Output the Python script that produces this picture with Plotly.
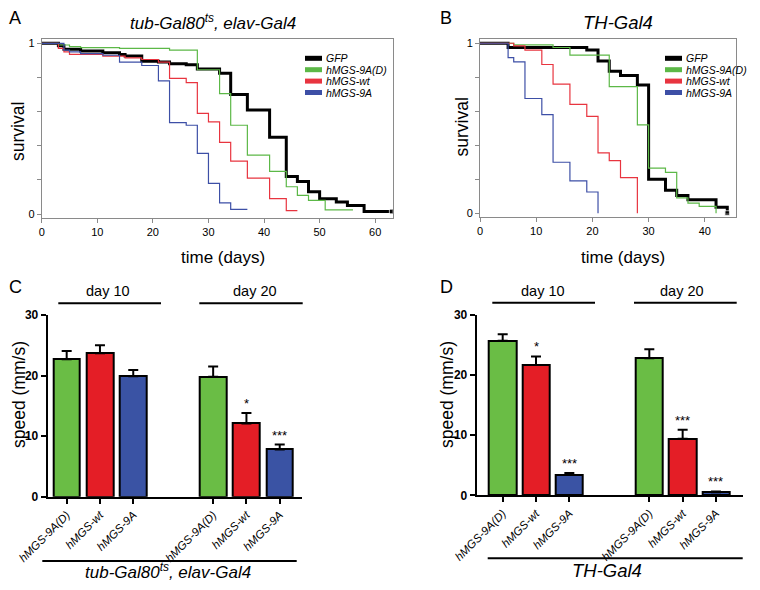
import plotly.graph_objects as go

# page body keeps an 8 px margin, so the figure is 16 px smaller than the window
PAGE_W, PAGE_H, PAD = 760, 590, 8
W, H = PAGE_W - 2 * PAD, PAGE_H - 2 * PAD
FONT = "Arial, Liberation Sans, sans-serif"

# ---- survival curves (step points: day, fraction alive) ----
SERIES = ["GFP", "hMGS-9A(D)", "hMGS-wt", "hMGS-9A"]
LINE_COLORS = ["#000000", "#5cb847", "#e8343f", "#3d4fa6"]
LINE_WIDTHS = [3, 1.2, 1.2, 1.2]

# A: tub-Gal80ts, elav-Gal4
a_gfp_days = [0, 3, 4, 7, 11, 14, 15, 18, 21, 23, 26, 28, 32, 34, 37, 41, 44, 46, 48, 50, 53, 55, 58, 63]
a_gfp_surv = [1.0, 0.985, 0.965, 0.955, 0.945, 0.935, 0.925, 0.895, 0.89, 0.88, 0.875, 0.85, 0.825, 0.70,
              0.61, 0.45, 0.22, 0.19, 0.13, 0.09, 0.07, 0.05, 0.015, 0.015]
a_9ad_days = [0, 3, 5, 7, 14, 23, 28, 32, 34, 37, 41, 44, 46, 48, 51, 56]
a_9ad_surv = [1.0, 0.99, 0.98, 0.975, 0.97, 0.96, 0.845, 0.705, 0.52, 0.345, 0.25, 0.16, 0.11, 0.08, 0.025, 0.025]
a_wt_days = [0, 3, 4, 5, 11, 15, 18, 21, 23, 26, 28, 30, 32, 34, 37, 41, 44, 46]
a_wt_surv = [1.0, 0.97, 0.95, 0.935, 0.925, 0.915, 0.905, 0.89, 0.795, 0.77, 0.59, 0.54, 0.42, 0.31,
             0.21, 0.09, 0.02, 0.02]
a_9a_days = [0, 4, 5, 7, 11, 14, 18, 21, 23, 26, 28, 30, 32, 34, 37]
a_9a_surv = [1.0, 0.96, 0.95, 0.94, 0.93, 0.89, 0.87, 0.78, 0.535, 0.52, 0.355, 0.18, 0.065, 0.027, 0.027]

# B: TH-Gal4
b_gfp_days = [0, 5, 19, 21, 23, 25, 28, 30, 33, 35, 37, 42, 44]
b_gfp_surv = [1.0, 0.975, 0.96, 0.895, 0.835, 0.81, 0.755, 0.20, 0.135, 0.105, 0.08, 0.035, 0.0]
b_9ad_days = [0, 6, 13, 16, 23, 28, 30, 33, 35, 37, 39, 42]
b_9ad_surv = [1.0, 0.99, 0.975, 0.93, 0.745, 0.52, 0.265, 0.24, 0.09, 0.06, 0.04, 0.0]
b_wt_days = [0, 6, 8, 11, 13, 16, 19, 21, 23, 25, 28]
b_wt_surv = [1.0, 0.985, 0.96, 0.875, 0.76, 0.64, 0.57, 0.355, 0.31, 0.21, 0.0]
b_9a_days = [0, 5, 6, 8, 11, 13, 16, 19, 21]
b_9a_surv = [1.0, 0.915, 0.89, 0.675, 0.58, 0.30, 0.19, 0.125, 0.0]

# ---- locomotion speed (mm/s), mean and SEM ----
BAR_LABELS = ["hMGS-9A(D)", "hMGS-wt", "hMGS-9A"]
BAR_COLORS = ["#6abd45", "#e41e26", "#3a53a4"]
c_day10 = [22.7, 23.7, 19.9]
c_day10_err = [1.35, 1.3, 1.0]
c_day10_sig = ["", "", ""]
c_day20 = [19.8, 12.1, 7.8]
c_day20_err = [1.7, 1.7, 0.8]
c_day20_sig = ["", "*", "***"]
d_day10 = [25.7, 21.7, 3.4]
d_day10_err = [1.1, 1.4, 0.3]
d_day10_sig = ["", "*", "***"]
d_day20 = [22.8, 9.4, 0.5]
d_day20_err = [1.5, 1.5, 0.15]
d_day20_sig = ["", "***", "***"]


def fx(px):
    # page pixel -> paper fraction
    return (px - PAD) / W


def fy(py):
    return 1 - (py - PAD) / H


fig = go.Figure()
shapes, notes = [], []


def note(text, x, y, size, **kw):
    d = dict(text=text, x=fx(x), y=fy(y), xref="paper", yref="paper", showarrow=False,
             font=dict(family=FONT, size=size, color="black"), xanchor="center", yanchor="middle")
    d.update(kw)
    notes.append(d)


def hline(x0, x1, y, width=2, color="black"):
    shapes.append(dict(type="line", xref="paper", yref="paper", x0=fx(x0), x1=fx(x1),
                       y0=fy(y), y1=fy(y), line=dict(color=color, width=width)))


def survival(curves, xa, ya, legend_x, legend_y):
    for (days, surv), name, col, lw in zip(curves, SERIES, LINE_COLORS, LINE_WIDTHS):
        sizes = [0] * (len(days) - 1) + ([5] if name == "GFP" else [0])
        fig.add_trace(go.Scatter(x=days, y=surv, mode="lines+markers", line_shape="hv",
                                 line=dict(color=col, width=lw), marker=dict(size=sizes, color=col, symbol="square"),
                                 xaxis=xa, yaxis=ya, name=name, showlegend=False, hoverinfo="skip"))
    for i, (name, col) in enumerate(zip(SERIES, LINE_COLORS)):
        y = legend_y + 11.4 * i
        hline(legend_x, legend_x + 17, y, width=5, color=col)
        note(name, legend_x + 19, y, 10.5, xanchor="left",
             font=dict(family=FONT, size=10.5, color="black", style="italic"))


survival([(a_gfp_days, a_gfp_surv), (a_9ad_days, a_9ad_surv), (a_wt_days, a_wt_surv), (a_9a_days, a_9a_surv)],
         "x", "y", 305, 58.3)
survival([(b_gfp_days, b_gfp_surv), (b_9ad_days, b_9ad_surv), (b_wt_days, b_wt_surv), (b_9a_days, b_9a_surv)],
         "x2", "y2", 665, 58.3)

POS1 = [0, 1, 2]
POS2 = [4.4, 5.4, 6.4]


def bars(groups, xa, ya, width):
    for pos, vals, errs, sig in groups:
        fig.add_trace(go.Bar(x=pos, y=vals, width=width, xaxis=xa, yaxis=ya, showlegend=False,
                             marker=dict(color=BAR_COLORS, line=dict(color="black", width=2)),
                             error_y=dict(type="data", array=errs, arrayminus=[0] * len(errs), symmetric=False,
                                          color="black", thickness=2, width=5),
                             hoverinfo="skip"))
        for p, v, e, s in zip(pos, vals, errs, sig):
            if s:
                notes.append(dict(text=s, x=p, y=v + e, xref=xa, yref=ya, showarrow=False,
                                  yanchor="bottom", yshift=0,
                                  font=dict(family=FONT, size=13, color="black")))


bars([(POS1, c_day10, c_day10_err, c_day10_sig), (POS2, c_day20, c_day20_err, c_day20_sig)], "x3", "y3", 0.8)
bars([(POS1, d_day10, d_day10_err, d_day10_sig), (POS2, d_day20, d_day20_err, d_day20_sig)], "x4", "y4", 0.82)

surv_x = dict(showline=True, linecolor="#8a8a8a", linewidth=1, mirror=True, ticks="outside", ticklen=4,
              tickcolor="#8a8a8a", showgrid=False, zeroline=False, automargin=False,
              tickfont=dict(family=FONT, size=11, color="black"))
surv_y = dict(surv_x, tickvals=[0, 1], ticktext=["0", "1"],
              minor=dict(tickvals=[0.2, 0.4, 0.6, 0.8], ticks="outside", ticklen=4, tickcolor="#8a8a8a",
                         showgrid=False))
bar_x = dict(showline=True, linecolor="black", linewidth=2, ticks="outside", ticklen=5, tickwidth=1.5,
             tickcolor="black", showgrid=False, zeroline=False, tickangle=-45, automargin=False,
             tickvals=POS1 + POS2, ticktext=BAR_LABELS * 2,
             tickfont=dict(family=FONT, size=11.5, color="black", style="italic"))
bar_y = dict(showline=True, linecolor="black", linewidth=2, ticks="outside", ticklen=5, tickwidth=2,
             tickcolor="black", showgrid=False, zeroline=False, range=[0, 30], tickvals=[0, 10, 20, 30],
             automargin=False, tickfont=dict(family=FONT, size=12, color="black", weight="bold"))

fig.update_layout(
    template="none",
    width=W, height=H, margin=dict(l=0, r=0, t=0, b=0, pad=0, autoexpand=False),
    paper_bgcolor="white", plot_bgcolor="white", showlegend=False, bargap=0,
    xaxis=dict(surv_x, domain=[fx(41.7), fx(393)], range=[0, 63.2], tickvals=[0, 10, 20, 30, 40, 50, 60], anchor="y"),
    yaxis=dict(surv_y, domain=[fy(218), fy(38.5)], range=[-0.023, 1.028], anchor="x"),
    xaxis2=dict(surv_x, domain=[fx(480), fx(736)], range=[0, 45.55], tickvals=[0, 10, 20, 30, 40], anchor="y2"),
    yaxis2=dict(surv_y, domain=[fy(217), fy(38.5)], range=[-0.022, 1.028], anchor="x2"),
    xaxis3=dict(bar_x, domain=[fx(47.7), fx(301.7)], range=[-0.57, 7.06], anchor="y3"),
    yaxis3=dict(bar_y, domain=[fy(496.7), fy(315)], anchor="x3"),
    xaxis4=dict(bar_x, domain=[fx(476.7), fx(743.3)], range=[-0.78, 7.22], anchor="y4"),
    yaxis4=dict(bar_y, domain=[fy(495.3), fy(315)], anchor="x4"),
)

# panel letters
for letter, x, y in [("A", 15, 18), ("B", 446, 18), ("C", 15, 287), ("D", 446, 287)]:
    note(letter, x, y, 18)

# survival titles and axis labels
note("<i>tub-Gal80<sup>ts</sup>, elav-Gal4</i>", 212.7, 22, 17)
note("<i>TH-Gal4</i>", 617.5, 22, 18.5)
note("time (days)", 223.3, 257, 17)
note("time (days)", 622.5, 257, 17)
note("survival", 18, 132, 17.5, textangle=-90)
note("survival", 461.5, 127, 17.5, textangle=-90)
note("speed (mm/s)", 19, 395, 17.5, textangle=-90)
note("speed (mm/s)", 447, 395, 17.5, textangle=-90)

# group brackets
hline(58.3, 161, 303.3)
hline(199.3, 302.7, 303.3)
note("day 10", 108, 291, 14.5)
note("day 20", 255, 291, 14.5)
hline(42.3, 296.7, 561)
note("<i>tub-Gal80<sup>ts</sup>, elav-Gal4</i>", 168.3, 571, 17)

hline(487.7, 742.7, 558.3)
hline(492.3, 595, 302.7)
hline(634, 736.7, 302.7)
note("day 10", 543.3, 291, 14.5)
note("day 20", 681.7, 291, 14.5)
note("<i>TH-Gal4</i>", 606.7, 570.5, 18.5)

fig.update_layout(shapes=shapes, annotations=notes)
fig.write_html("out.html")
